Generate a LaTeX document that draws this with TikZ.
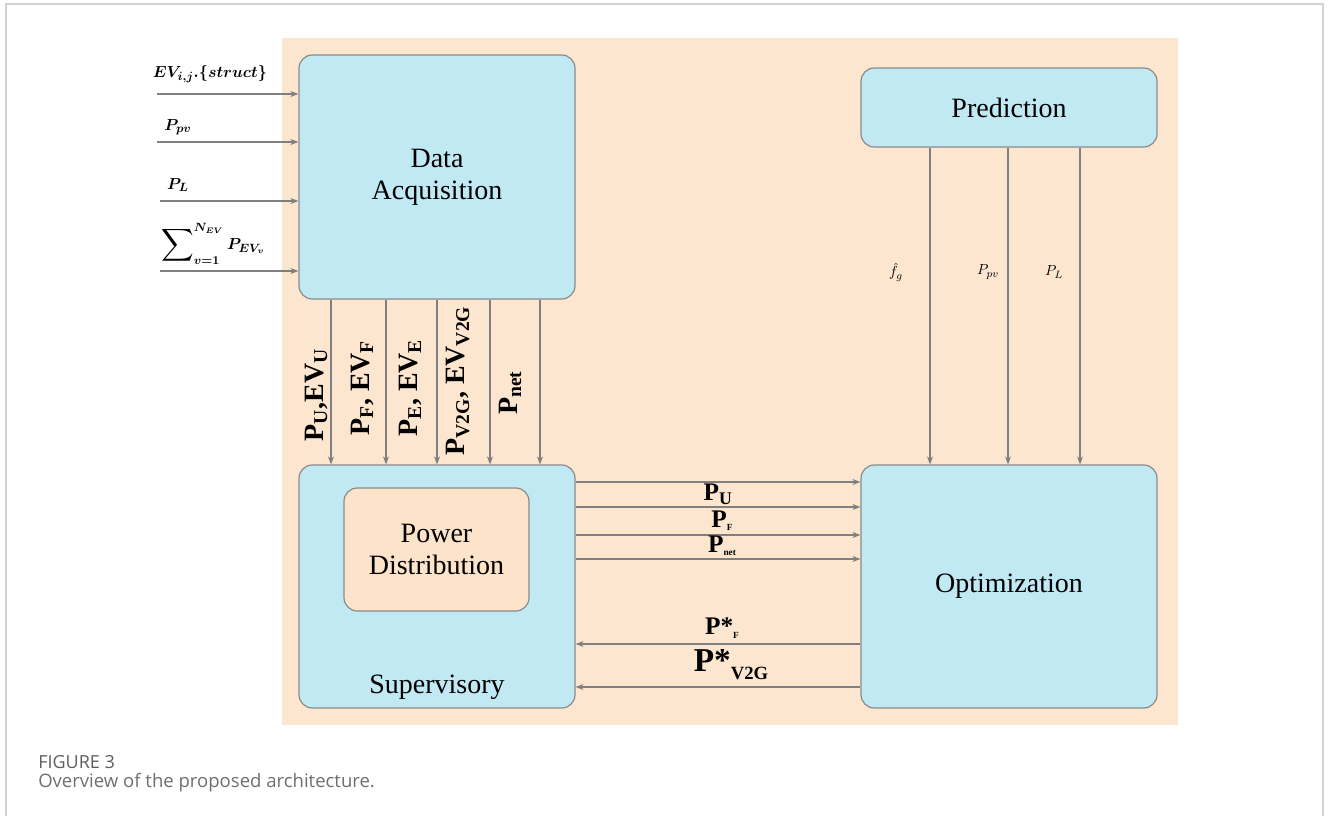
\documentclass[tikz,border=0pt]{standalone}
\usepackage{fontspec}
\setmainfont{Liberation Serif}
\newfontfamily\capfont{Open Sans}
\usetikzlibrary{arrows.meta}

\definecolor{boxblue}{HTML}{C1E9F4}
\definecolor{bgorange}{HTML}{FDE6CF}
\definecolor{innerorange}{HTML}{FCE4CA}
\definecolor{boxedge}{HTML}{8A8A8A}
\definecolor{flowgray}{HTML}{7F7F7F}
\definecolor{framegray}{HTML}{D2D2D2}
\definecolor{capgray}{HTML}{6E6E6E}

\tikzset{
	block/.style={draw=boxedge, fill=boxblue, rounded corners=10pt, line width=0.9pt,
		font=\fontsize{21}{25}\selectfont, align=center, inner sep=0pt},
	flow/.style={draw=flowgray, line width=0.8pt, -{Stealth[length=6pt,width=4.5pt]}},
	siglabel/.style={font=\bfseries\fontsize{21}{25}\selectfont, rotate=90, inner sep=0pt},
	flowlabel/.style={font=\bfseries\fontsize{19}{22}\selectfont, inner sep=0pt},
	mathlabel/.style={font=\fontsize{13}{15}\selectfont\boldmath, inner sep=0pt},
}

\begin{document}
\begin{tikzpicture}[x=0.75pt, y=-0.75pt]

	\useasboundingbox (0,0) rectangle (1330,816);

	% Рамка и фон
	\draw[framegray, line width=1pt] (6,4) rectangle (1323,840);
	\fill[bgorange] (282,38) rectangle (1178,725);

	% Блоки
	\node[block, minimum width=276*0.75pt, minimum height=244*0.75pt] (acq) at (437,177) {Data\\[-1pt]Acquisition};
	\node[block, minimum width=296*0.75pt, minimum height=79*0.75pt] (pred) at (1009,107.5) {Prediction};
	\node[block, minimum width=276*0.75pt, minimum height=243*0.75pt] (sup) at (437,586.5) {};
	\node[block, fill=innerorange, minimum width=185*0.75pt, minimum height=123*0.75pt] (dist) at (436.5,549.5) {Power\\[-1pt]Distribution};
	\node[font=\fontsize{21}{25}\selectfont, inner sep=0pt] (supname) at (437,687) {Supervisory};
	\node[block, minimum width=296*0.75pt, minimum height=243*0.75pt] (opt) at (1009,586.5) {Optimization};

	% Входы
	\coordinate (inA) at (157,94);
	\coordinate (inB) at (157,142);
	\coordinate (inC) at (160,201);
	\coordinate (inD) at (160,271);
	\draw[flow] (inA) -- (inA -| acq.west);
	\draw[flow] (inB) -- (inB -| acq.west);
	\draw[flow] (inC) -- (inC -| acq.west);
	\draw[flow] (inD) -- (inD -| acq.west);
	\node[mathlabel] (lstruct) at (210,74) {$EV_{i,j}.\{struct\}$};
	\node[mathlabel] (lpv) at (178,127) {$P_{pv}$};
	\node[mathlabel] (lload) at (178,185) {$P_{L}$};
	\node[mathlabel] (lsum) at (213,244) {$\mathop{\vcenter{\hbox{\scalebox{1.7}{$\displaystyle\sum$}}}}\nolimits_{v=1}^{N_{EV}} P_{EV_v}$};

	% Data Acquisition -> Supervisory
	\foreach \x in {331,386,437,490,540} {
		\draw[flow] ([xshift={(\x-437)*0.75pt}]acq.south) -- ([xshift={(\x-437)*0.75pt}]sup.north);
	}
	\node[siglabel] (sU) at (316,395) {P\textsubscript{U},EV\textsubscript{U}};
	\node[siglabel] (sF) at (362,388) {P\textsubscript{F}, EV\textsubscript{F}};
	\node[siglabel] (sE) at (410,388) {P\textsubscript{E}, EV\textsubscript{E}};
	\node[siglabel] (sV) at (458,381) {P\textsubscript{V2G}, EV\textsubscript{V2G}};
	\node[siglabel] (sN) at (510,393) {P\textsubscript{net}};

	% Prediction -> Optimization
	\foreach \x in {930,1008,1080} {
		\draw[flow] ([xshift={(\x-1009)*0.75pt}]pred.south) -- ([xshift={(\x-1009)*0.75pt}]opt.north);
	}
	\node[font=\fontsize{11}{13}\selectfont] (pf) at (896,272) {$\hat{f}_g$};
	\node[font=\fontsize{11}{13}\selectfont] (ppv) at (988,272) {$P_{pv}$};
	\node[font=\fontsize{11}{13}\selectfont] (pl) at (1054,272) {$P_{L}$};

	% Supervisory <-> Optimization
	\foreach \y in {482,507,535,559} {
		\draw[flow] ([yshift={(586.5-\y)*0.75pt}]sup.east) -- ([yshift={(586.5-\y)*0.75pt}]opt.west);
	}
	\foreach \y in {644,687} {
		\draw[flow] ([yshift={(586.5-\y)*0.75pt}]opt.west) -- ([yshift={(586.5-\y)*0.75pt}]sup.east);
	}
	\node[flowlabel] (fU) at (718,494) {P\textsubscript{U}};
	\node[flowlabel] (fF) at (722,521) {P{\fontsize{7}{8}\selectfont\raisebox{-2pt}{F}}};
	\node[flowlabel] (fN) at (722,546) {P{\fontsize{7}{8}\selectfont\raisebox{-2pt}{net}}};
	\node[flowlabel] (bF) at (722,628) {P*{\fontsize{7}{8}\selectfont\raisebox{-3pt}{F}}};
	\node[flowlabel, font=\bfseries\fontsize{25}{28}\selectfont] (bV) at (731,665) {P*{\fontsize{14}{16}\selectfont\raisebox{-6pt}{V2G}}};

	% Подпись
	\node[anchor=base west, inner sep=0pt, font=\capfont\fontsize{13.5}{16}\selectfont, text=capgray!85!black] (fig) at (38,768) {FIGURE 3};
	\node[anchor=base west, inner sep=0pt, font=\capfont\fontsize{13.9}{16}\selectfont, text=capgray] (cap) at (38,787) {Overview of the proposed architecture.};

\end{tikzpicture}
\end{document}
